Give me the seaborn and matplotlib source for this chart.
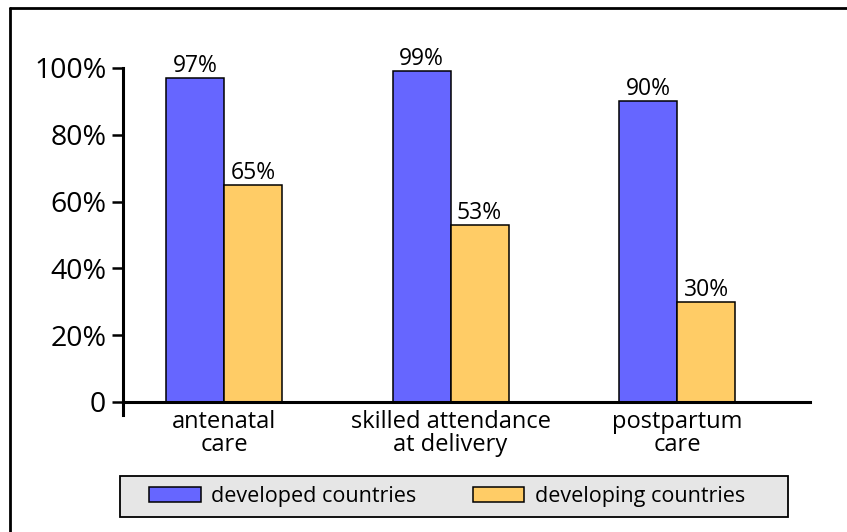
import matplotlib
matplotlib.use("Agg")
import matplotlib.pyplot as plt
import matplotlib.patches as mpatches
from matplotlib.lines import Line2D
import seaborn as sns
import pandas as pd

# data
categories = ["antenatal\ncare", "skilled attendance\nat delivery", "postpartum\ncare"]
developed = [97, 99, 90]
developing = [65, 53, 30]
series = ["developed countries", "developing countries"]
colors = ["#6666ff", "#ffcc66"]
yticks = [0, 20, 40, 60, 80, 100]

sns.set_theme(style="white")
plt.rcParams['font.family'] = ['Open Sans', 'DejaVu Sans']
plt.rcParams['text.color'] = 'black'
plt.rcParams['xtick.color'] = 'black'
plt.rcParams['ytick.color'] = 'black'

df = pd.DataFrame({
    "category": categories * 2,
    "value": developed + developing,
    "series": [series[0]] * 3 + [series[1]] * 3,
})

fig = plt.figure(figsize=(8.47, 5.32), dpi=100)
ax = fig.add_axes([123 / 847, 1 - 402 / 532, (810 - 123) / 847, (402 - 68) / 532])

sns.barplot(data=df, x="category", y="value", hue="series", palette=colors,
            width=0.512, gap=0, edgecolor="black", linewidth=1.1,
            saturation=1, legend=False, ax=ax)

# value labels above the bars
for cont in ax.containers:
    ax.bar_label(cont, labels=[f"{int(v)}%" for v in cont.datavalues],
                 padding=0, fontsize=16.5, color="black")

ax.set_xlim(-0.446, 2.587)
ax.set_ylim(0, 100)
ax.set_yticks(yticks)
ax.set_yticklabels(["0"] + [f"{t}%" for t in yticks[1:]], fontsize=20.5)
ax.set_xlabel("")
ax.set_ylabel("")
for lab in ax.get_xticklabels():
    lab.set_fontsize(17)
    lab.set_linespacing(0.95)

ax.tick_params(axis="y", length=8, width=1.8, color="black", pad=4, left=True)
ax.tick_params(axis="x", length=0, pad=6)
for side in ["top", "right"]:
    ax.spines[side].set_visible(False)
for side in ["left", "bottom"]:
    ax.spines[side].set_linewidth(2.2)
    ax.spines[side].set_color("black")
ax.spines["left"].set_bounds(-4, 100)

# gray legend box at the bottom
box = mpatches.Rectangle((120 / 847, 1 - 517 / 532), (788 - 120) / 847, 41 / 532,
                         transform=fig.transFigure, facecolor="#e6e6e6",
                         edgecolor="black", linewidth=1.3)
fig.add_artist(box)
handles = [mpatches.Patch(facecolor=c, edgecolor="black", linewidth=1.1) for c in colors]
leg = fig.legend(handles, series, ncol=2, loc="center left",
                 bbox_to_anchor=(149 / 847, 1 - 496.5 / 532),
                 fontsize=15.5, frameon=False,
                 handlelength=2.4, handleheight=0.75, handletextpad=0.5,
                 columnspacing=2.6, borderpad=0, borderaxespad=0)

# outer frame (left and top edge)
fig.add_artist(Line2D([10 / 847, 10 / 847], [0, 1 - 8 / 532], color="black", linewidth=2))
fig.add_artist(Line2D([10 / 847, 1], [1 - 8 / 532, 1 - 8 / 532], color="black", linewidth=2))

fig.savefig("out.png", dpi=100)
